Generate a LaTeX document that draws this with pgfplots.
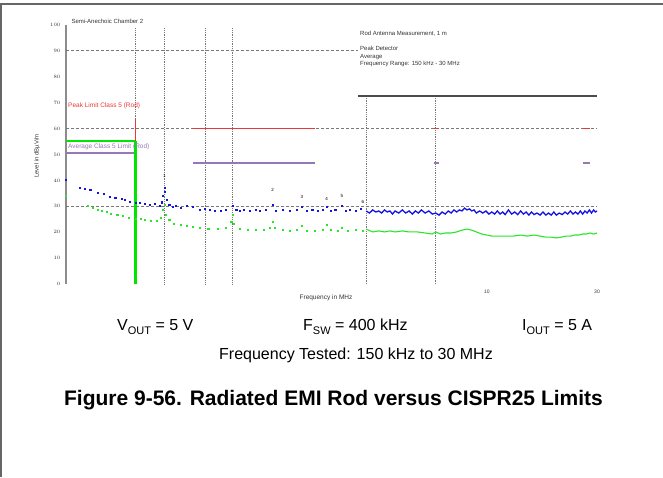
\documentclass[border=0pt]{standalone}
\usepackage{pgfplots}
\pgfplotsset{compat=1.18}
\usepackage{fontspec}
\setmainfont{Liberation Sans}
\definecolor{limred}{RGB}{235,55,55}
\definecolor{limpurple}{RGB}{150,120,180}
\definecolor{limgreen}{RGB}{0,230,0}
\definecolor{pkblue}{RGB}{20,20,225}
\definecolor{avgreen}{RGB}{40,230,40}
\definecolor{gridgray}{RGB}{120,120,120}
\begin{document}
\begin{tikzpicture}[x=1pt,y=1pt]
\useasboundingbox (0,0) rectangle (663,477);
\draw[line width=1.5pt, black!60] (0,473) -- (663,473);
\draw[line width=1.5pt, black!60] (0.75,473) -- (0.75,0);
\begin{axis}[at={(66pt,193pt)}, anchor=south west, scale only axis,
  width=531pt, height=259pt, xmode=log, xmin=0.15, xmax=30, ymin=0, ymax=100,
  axis lines=left, axis line style={-}, x axis line style={draw=none},
  y axis line style={draw=black!45, line width=1.6pt},
  xtick={10,30}, xticklabels={10,30}, ytick={0,10,...,100},
  tick style={draw=none},
  ticklabel style={font=\fontsize{5}{5}\selectfont, black!80},
  clip=false]
% grid
\addplot[gridgray, densely dashed, line width=0.8pt] coordinates {(0.15,90) (2.76,90)};
\addplot[gridgray, densely dashed, line width=0.8pt] coordinates {(0.15,60) (30,60)};
\addplot[gridgray, densely dashed, line width=0.8pt] coordinates {(0.15,30) (30,30)};
\addplot[gridgray, densely dotted, line width=0.8pt] coordinates {(0.3,98.8) (0.3,55.2)};
\addplot[gridgray, densely dotted, line width=0.8pt] coordinates {(0.4,98.8) (0.4,0)};
\addplot[gridgray, densely dotted, line width=0.8pt] coordinates {(0.6,98.8) (0.6,0)};
\addplot[gridgray, densely dotted, line width=0.8pt] coordinates {(0.79,98.8) (0.79,0)};
\addplot[gridgray, densely dotted, line width=0.8pt] coordinates {(3.0,72.6) (3.0,0)};
\addplot[gridgray, densely dotted, line width=0.8pt] coordinates {(6.0,72.6) (6.0,0)};
\addplot[black!70, line width=1.2pt] coordinates {(2.76,72.6) (30,72.6)};
% limits
\addplot[limred, line width=1.6pt] coordinates {(0.3,63.7) (0.3,55.2)};
\addplot[limred, line width=1.2pt] coordinates {(0.53,60) (1.8,60)};
\addplot[limred, line width=1.2pt] coordinates {(5.9,60) (6.2,60)};
\addplot[limred, line width=1.2pt] coordinates {(26,60) (28,60)};
\addplot[limpurple, line width=1.2pt] coordinates {(0.15,50.6) (0.3,50.6)};
\addplot[limpurple, line width=1.2pt] coordinates {(0.53,46.7) (1.8,46.7)};
\addplot[limpurple, line width=1.2pt] coordinates {(5.9,46.7) (6.2,46.7)};
\addplot[limpurple, line width=1.2pt] coordinates {(26,46.7) (28,46.7)};
\addplot[limgreen, line width=1.3pt] coordinates {(0.15,55.2) (0.3,55.2)};
\addplot[limgreen, line width=2.2pt] coordinates {(0.3,55.2) (0.3,0)};
% peak (blue)
\addplot[pkblue, only marks, mark=square*, mark size=0.55pt] coordinates {
(0.150,40.2) (0.172,37.1) (0.180,36.7) (0.191,36.3) (0.205,35.1) (0.219,34.7)
(0.232,33.6) (0.245,33.2) (0.262,32.8) (0.27,32.4) (0.284,31.9) (0.30,31.3)
(0.314,31.5) (0.33,30.9) (0.345,30.5) (0.364,30.9) (0.383,30.1) (0.39,31.6)
(0.395,34) (0.40,37.1) (0.402,35.5) (0.41,32.4) (0.42,30.5) (0.435,29.7)
(0.45,30.1) (0.47,29.3) (0.50,30.1) (0.53,29.7) (0.57,28.6) (0.60,29.0)
(0.63,28.6) (0.66,28.2) (0.70,28.2) (0.74,28.6) (0.79,30.1) (0.82,28.6)
(0.85,28.2) (0.88,28.6) (0.94,28.2) (1.0,28.6) (1.04,28.2) (1.10,28.6)
(1.18,30.5) (1.22,28.2) (1.3,28.6) (1.4,28.2) (1.5,28.6) (1.58,29.7)
(1.65,28.2) (1.75,28.6) (1.85,28.2) (1.95,28.6) (2.02,29.7) (2.1,28.2)
(2.2,28.6) (2.35,30.1) (2.45,28.2) (2.55,28.6) (2.7,28.2) (2.85,29.0)};
\addplot[pkblue, line width=1.3pt] coordinates {
(3.0,28.2) (3.1,27.4) (3.2,28.6) (3.3,27.8) (3.4,28.2) (3.5,27.4) (3.6,28.6)
(3.7,27.8) (3.8,28.2) (3.9,27.0) (4.0,28.2) (4.15,27.4) (4.3,28.6) (4.45,27.4)
(4.6,28.2) (4.75,27.0) (4.9,28.2) (5.05,27.4) (5.2,28.6) (5.4,27.4) (5.6,28.2)
(5.8,27.0) (6.0,27.4) (6.2,26.6) (6.4,27.8) (6.6,27.0) (6.8,28.2) (7.0,27.4)
(7.2,28.6) (7.4,27.8) (7.6,28.6) (7.8,28.2) (8.0,29.3) (8.2,28.6) (8.4,29.0)
(8.6,28.2) (8.8,28.6) (9.0,27.4) (9.3,28.2) (9.6,27.4) (9.9,28.2) (10.2,27.0)
(10.5,27.8) (10.8,27.0) (11.1,28.2) (11.4,27.0) (11.7,27.8) (12.0,26.8)
(12.4,28.6) (12.8,27.0) (13.2,27.8) (13.6,26.8) (14.0,28.2) (14.4,27.0)
(14.8,27.8) (15.2,26.6) (15.6,27.8) (16.0,26.8) (16.5,27.4) (17.0,26.6)
(17.5,27.8) (18.0,26.6) (18.5,27.4) (19.0,26.6) (19.5,27.8) (20.0,26.6)
(20.6,27.4) (21.2,26.8) (21.8,27.8) (22.4,27.0) (23.0,28.2) (23.6,27.0)
(24.2,27.8) (24.8,27.0) (25.4,28.2) (26.0,27.0) (26.6,28.2) (27.2,27.4)
(27.8,28.6) (28.4,27.4) (29.0,28.6) (29.5,27.8) (30.0,28.2)};
% average (green)
\addplot[avgreen, only marks, mark=square*, mark size=0.55pt] coordinates {
(0.150,34.0) (0.187,30.1) (0.195,29.3) (0.205,28.6) (0.215,28.2) (0.225,27.8)
(0.235,27.0) (0.25,26.6) (0.265,26.3) (0.28,25.5) (0.30,25.1) (0.315,25.1)
(0.33,24.7) (0.35,24.3) (0.37,24.3) (0.385,25.5) (0.395,28.6) (0.40,30.5)
(0.405,26.6) (0.42,24.7) (0.44,23.2) (0.47,22.8) (0.50,22.4) (0.53,22.0)
(0.57,21.6) (0.62,21.2) (0.68,21.2) (0.74,21.6) (0.78,23.9) (0.79,26.6)
(0.80,23.2) (0.85,21.2) (0.92,20.8) (1.0,20.8) (1.08,20.8) (1.15,21.6)
(1.18,23.9) (1.2,21.6) (1.3,20.8) (1.4,20.5) (1.5,20.8) (1.58,22.4)
(1.65,20.5) (1.8,20.5) (1.95,20.8) (2.02,22.8) (2.1,20.8) (2.25,20.5)
(2.35,21.6) (2.5,20.5) (2.7,20.8) (2.9,20.5)};
\addplot[avgreen, line width=1.1pt] coordinates {
(3.0,21.2) (3.2,20.1) (3.4,20.5) (3.6,20.1) (3.8,20.5) (4.0,20.1) (4.3,20.5)
(4.6,20.1) (5.0,20.1) (5.4,19.7) (5.8,19.3) (6.0,20.1) (6.3,19.3) (6.6,19.7)
(7.0,19.7) (7.4,20.1) (7.8,20.8) (8.2,21.2) (8.6,20.8) (9.0,20.1) (9.5,19.3)
(10.0,18.9) (10.5,18.5) (11,18.5) (12,18.5) (13,18.5) (14,18.9) (15,18.5)
(16,18.9) (17,18.5) (18,18.1) (19,18.1) (20,17.8) (21,18.1) (22,18.5)
(23,18.5) (24,18.9) (25,18.9) (26,19.3) (27,19.3) (28,19.7) (29,19.3) (30,19.7)};
% marker labels
\node[font=\fontsize{4.5}{4.5}\selectfont] at (axis cs:0.4,41.8) {1};
\node[font=\fontsize{4.5}{4.5}\selectfont] at (axis cs:1.18,36.5) {2};
\node[font=\fontsize{4.5}{4.5}\selectfont] at (axis cs:1.58,33.5) {3};
\node[font=\fontsize{4.5}{4.5}\selectfont] at (axis cs:2.02,33.0) {4};
\node[font=\fontsize{4.5}{4.5}\selectfont] at (axis cs:2.35,34.0) {5};
\node[font=\fontsize{4.5}{4.5}\selectfont] at (axis cs:2.9,31.5) {6};
\end{axis}
% texts in chart
\node[anchor=west, font=\fontsize{6}{6}\selectfont, black!80] at (68,456) {Semi-Anechoic Chamber 2};
\begin{scope}[every node/.style={anchor=west, font=\fontsize{6}{6}\selectfont, black!80, inner sep=0pt}]
\node at (360,443) {Rod Antenna Measurement, 1 m};
\node at (360,429) {Peak Detector};
\node at (360,420) {Average};
\node at (360,413) {Frequency Range: 150 kHz - 30 MHz};
\end{scope}
\node[anchor=west, inner sep=0pt, font=\fontsize{6.5}{6.5}\selectfont, limred] at (68,371) {Peak Limit Class 5 (Rod)};
\node[anchor=west, inner sep=0pt, font=\fontsize{6.5}{6.5}\selectfont, limpurple] at (68,330) {Average Class 5 Limit (Rod)};
\node[rotate=90, font=\fontsize{6}{6}\selectfont, black!80] at (37,321) {Level in dB\textmu V/m};
\node[font=\fontsize{6.5}{6.5}\selectfont, black!80] at (326,179) {Frequency in MHz};
% conditions
\newcommand{\sub}[1]{\raisebox{-0.28em}{\fontsize{11}{11}\selectfont #1}}
\node[anchor=west, inner sep=0pt, font=\fontsize{16}{16}\selectfont] at (117,150) {V\sub{OUT} = 5 V};
\node[anchor=west, inner sep=0pt, font=\fontsize{16}{16}\selectfont] at (303,150) {F\sub{SW} = 400 kHz};
\node[anchor=west, inner sep=0pt, font=\fontsize{16}{16}\selectfont] at (522,150) {I\sub{OUT} = 5 A};
\node[font=\fontsize{16}{16}\selectfont] at (356,122) {Frequency Tested: 150 kHz to 30 MHz};
\node[font=\bfseries\fontsize{21}{21}\selectfont] at (333.5,77) {Figure 9-56. Radiated EMI Rod versus CISPR25 Limits};
\end{tikzpicture}
\end{document}
